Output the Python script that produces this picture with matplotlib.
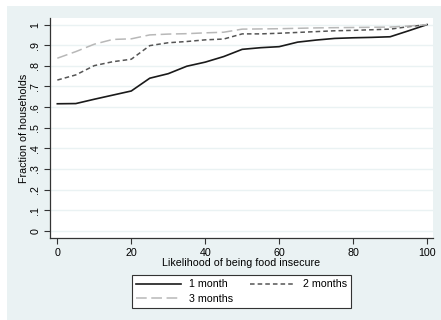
import matplotlib

matplotlib.use("Agg")

import matplotlib.pyplot as plt
from matplotlib.patches import Rectangle

plt.rcParams["font.family"] = ["Liberation Sans", "DejaVu Sans"]

# likelihood of being food insecure (%)
likelihood = [0, 5, 10, 15, 20, 25, 30, 35, 40, 45, 50,
              55, 60, 65, 70, 75, 80, 85, 90, 95, 100]
one_month = [0.616, 0.617, 0.638, 0.658, 0.678, 0.740, 0.762, 0.798, 0.818, 0.845, 0.880,
             0.888, 0.893, 0.915, 0.925, 0.933, 0.936, 0.938, 0.941, 0.970, 1.0]
two_months = [0.731, 0.756, 0.801, 0.820, 0.832, 0.898, 0.912, 0.918, 0.926, 0.930, 0.955,
              0.955, 0.958, 0.962, 0.966, 0.970, 0.972, 0.975, 0.978, 0.990, 1.0]
three_months = [0.837, 0.869, 0.905, 0.928, 0.931, 0.950, 0.954, 0.956, 0.960, 0.963, 0.978,
                0.979, 0.980, 0.982, 0.984, 0.985, 0.986, 0.987, 0.988, 0.993, 1.0]
yticks = [0, 0.1, 0.2, 0.3, 0.4, 0.5, 0.6, 0.7, 0.8, 0.9, 1.0]
ytick_labels = ["0", ".1", ".2", ".3", ".4", ".5", ".6", ".7", ".8", ".9", "1"]
xticks = [0, 20, 40, 60, 80, 100]

W, H = 441, 320
bg = "#EAF2F3"

fig = plt.figure(figsize=(W / 100, H / 100), dpi=100)
fig.patches.append(Rectangle((7 / W, 0), 1, (H - 6) / H, transform=fig.transFigure,
                             facecolor=bg, edgecolor="none", zorder=-10))

ax = fig.add_axes([50 / W, (H - 238) / H, 383 / W, 220 / H])
ax.set_facecolor("white")

ax.plot(likelihood, one_month, color="#1a1a1a", lw=1.2, label="1 month")
ax.plot(likelihood, two_months, color="#555555", lw=1.1, dashes=(3, 2), label="2 months")
ax.plot(likelihood, three_months, color="#b8b8b8", lw=1.1, dashes=(7, 3), label="3 months")

ax.set_xlim(-1.98, 101.6)
ax.set_ylim(-0.035, 1.032)
ax.set_yticks(yticks)
ax.set_yticklabels(ytick_labels, rotation=90, va="center")
ax.set_xticks(xticks)
ax.grid(axis="y", color=bg, lw=1.0)
ax.set_axisbelow(True)
for s in ("top", "right"):
    ax.spines[s].set_visible(False)
for s in ("left", "bottom"):
    ax.spines[s].set_color("#333333")
    ax.spines[s].set_linewidth(0.9)
ax.tick_params(direction="out", length=4, width=0.8, color="#333333",
               labelsize=7.7, pad=3)
ax.set_xlabel("Likelihood of being food insecure", fontsize=7.7, labelpad=0)
ax.set_ylabel("Fraction of households", fontsize=7.7, labelpad=1)

h, l = ax.get_legend_handles_labels()
order = [0, 2, 1]
leg = fig.legend([h[i] for i in order], [l[i] for i in order], ncol=2,
                 loc="center", bbox_to_anchor=((134 + 349) / 2 / W, 1 - (274 + 309) / 2 / H),
                 frameon=True, fancybox=False, edgecolor="#333333", framealpha=1,
                 fontsize=7.7, handlelength=4.2, columnspacing=1.5, borderpad=0.4,
                 labelspacing=0.4, handletextpad=0.8)
leg.get_frame().set_linewidth(0.8)

fig.savefig("out.png", dpi=100)
